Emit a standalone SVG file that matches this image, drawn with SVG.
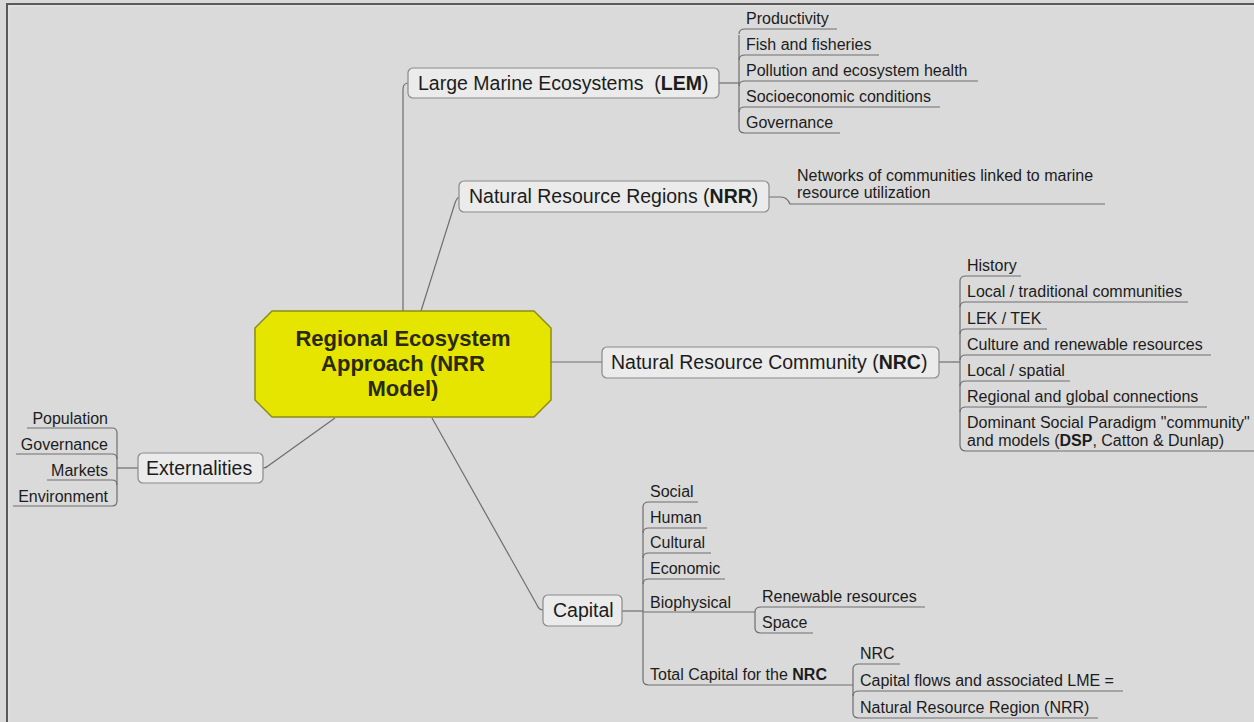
<svg xmlns="http://www.w3.org/2000/svg" width="1254" height="722" viewBox="0 0 1254 722">
<style>
text{font-family:"Liberation Sans",Arial,sans-serif;fill:#1c1c1c}
.t1{font-size:19.5px}
.t2{font-size:16px}
.b{font-weight:bold}
.box{fill:#ebebeb;stroke:#8a8a8a;stroke-width:1.2}
.ln{fill:none;stroke:#6e6e6e;stroke-width:1.2}
.ctr{font-size:22px;font-weight:bold;fill:#2a2a08;text-anchor:middle}
</style>
<rect x="0" y="0" width="1254" height="722" fill="#dadada"/>
<path d="M7 722 V4 H1254" fill="none" stroke="#5a5a5a" stroke-width="2"/>
<path d="M9 722 V6 H1254" fill="none" stroke="#e6e6e6" stroke-width="1"/>

<g id="connectors" class="ln">
  <!-- central to LEM -->
  <path d="M403 311 V89 Q403 83 409 83"/>
  <!-- central to NRR -->
  <path d="M421 311 L455 203 Q457 197 460 197"/>
  <!-- central to NRC -->
  <path d="M551 362 H602"/>
  <!-- central to Externalities -->
  <path d="M335 418 L268 466 Q266 468 263 468"/>
  <!-- central to Capital -->
  <path d="M432 418 L537 605 Q539 610 543 610"/>

  <!-- LEM children -->
  <path d="M719 83 H739"/>
  <path d="M739 35 V128"/>
  <path d="M739 34 Q739 29 745 29 H837"/>
  <path d="M739 60 Q739 55 745 55 H879"/>
  <path d="M739 86 Q739 81 745 81 H978"/>
  <path d="M739 112 Q739 107 745 107 H940"/>
  <path d="M739 128 Q739 133 745 133 H840"/>

  <!-- NRR child -->
  <path d="M769 197 H781 Q787 197 790 204 H1105"/>

  <!-- NRC children -->
  <path d="M939 362 H960"/>
  <path d="M960 281 V445"/>
  <path d="M960 281 Q960 276 966 276 H1021"/>
  <path d="M960 307 Q960 302 966 302 H1188"/>
  <path d="M960 334 Q960 329 966 329 H1047"/>
  <path d="M960 360 Q960 355 966 355 H1211"/>
  <path d="M960 386 Q960 381 966 381 H1070"/>
  <path d="M960 412 Q960 407 966 407 H1207"/>
  <path d="M960 445 Q960 451 966 451 H1254"/>

  <!-- Externalities children -->
  <path d="M138 468 H117"/>
  <path d="M117 433 V501"/>
  <path d="M27 428 H112 Q117 428 117 433"/>
  <path d="M16 454 H112 Q117 454 117 459"/>
  <path d="M47 480 H112 Q117 480 117 485"/>
  <path d="M117 501 Q117 506 112 506 H13"/>

  <!-- Capital children -->
  <path d="M622 611 H643"/>
  <path d="M643 507 V680"/>
  <path d="M643 507 Q643 502 649 502 H698"/>
  <path d="M643 533 Q643 528 649 528 H707"/>
  <path d="M643 558 Q643 553 649 553 H711"/>
  <path d="M643 584 Q643 579 649 579 H725"/>
  <path d="M643 612 H755"/>
  <path d="M643 680 Q643 685 649 685 H853"/>
  <!-- Biophysical children -->
  <path d="M755 612 V628"/>
  <path d="M755 612 Q755 607 761 607 H925"/>
  <path d="M755 628 Q755 633 761 633 H813"/>
  <!-- Total capital children -->
  <path d="M853 669 V713"/>
  <path d="M853 669 Q853 664 859 664 H900"/>
  <path d="M853 696 Q853 691 859 691 H1123"/>
  <path d="M853 713 Q853 718 859 718 H1098"/>
</g>

<g id="central">
  <polygon points="272,311 534,311 551,328 551,400 534,417 272,417 255,400 255,328" fill="#e5e500" stroke="#8c8c1a" stroke-width="1.5"/>
  <text class="ctr" x="403" y="346">Regional Ecosystem</text>
  <text class="ctr" x="403" y="371">Approach (NRR</text>
  <text class="ctr" x="403" y="396">Model)</text>
</g>

<g id="lem">
  <rect class="box" x="408" y="68" width="311" height="30" rx="5"/>
  <text class="t1" x="418" y="90" xml:space="preserve">Large Marine Ecosystems  (<tspan class="b">LEM</tspan>)</text>
</g>
<g id="lem-children">
  <text class="t2" x="746" y="24">Productivity</text>
  <text class="t2" x="746" y="50">Fish and fisheries</text>
  <text class="t2" x="746" y="76">Pollution and ecosystem health</text>
  <text class="t2" x="746" y="102">Socioeconomic conditions</text>
  <text class="t2" x="746" y="128">Governance</text>
</g>

<g id="nrr">
  <rect class="box" x="459" y="181" width="310" height="31" rx="5"/>
  <text class="t1" x="469" y="203">Natural Resource Regions (<tspan class="b">NRR</tspan>)</text>
</g>
<g id="nrr-child">
  <text class="t2" x="797" y="181">Networks of communities linked to marine</text>
  <text class="t2" x="797" y="198">resource utilization</text>
</g>

<g id="nrc">
  <rect class="box" x="602" y="347" width="337" height="31" rx="5"/>
  <text class="t1" x="611" y="369">Natural Resource Community (<tspan class="b">NRC</tspan>)</text>
</g>
<g id="nrc-children">
  <text class="t2" x="967" y="271">History</text>
  <text class="t2" x="967" y="297">Local / traditional communities</text>
  <text class="t2" x="967" y="324">LEK / TEK</text>
  <text class="t2" x="967" y="350">Culture and renewable resources</text>
  <text class="t2" x="967" y="376">Local / spatial</text>
  <text class="t2" x="967" y="402">Regional and global connections</text>
  <text class="t2" x="967" y="428">Dominant Social Paradigm "community"</text>
  <text class="t2" x="967" y="446">and models (<tspan class="b">DSP</tspan>, Catton &amp; Dunlap)</text>
</g>

<g id="externalities">
  <rect class="box" x="138" y="453" width="125" height="30" rx="5"/>
  <text class="t1" x="146" y="475">Externalities</text>
</g>
<g id="ext-children" style="text-anchor:end">
  <text class="t2" x="108" y="424">Population</text>
  <text class="t2" x="108" y="450">Governance</text>
  <text class="t2" x="108" y="476">Markets</text>
  <text class="t2" x="108" y="502">Environment</text>
</g>

<g id="capital">
  <rect class="box" x="543" y="595" width="79" height="31" rx="5"/>
  <text class="t1" x="553" y="617">Capital</text>
</g>
<g id="capital-children">
  <text class="t2" x="650" y="497">Social</text>
  <text class="t2" x="650" y="523">Human</text>
  <text class="t2" x="650" y="548">Cultural</text>
  <text class="t2" x="650" y="574">Economic</text>
  <text class="t2" x="650" y="608">Biophysical</text>
  <text class="t2" x="762" y="602">Renewable resources</text>
  <text class="t2" x="762" y="628">Space</text>
  <text class="t2" x="650" y="680">Total Capital for the <tspan class="b">NRC</tspan></text>
  <text class="t2" x="860" y="659">NRC</text>
  <text class="t2" x="860" y="686">Capital flows and associated LME =</text>
  <text class="t2" x="860" y="713">Natural Resource Region (NRR)</text>
</g>
</svg>
